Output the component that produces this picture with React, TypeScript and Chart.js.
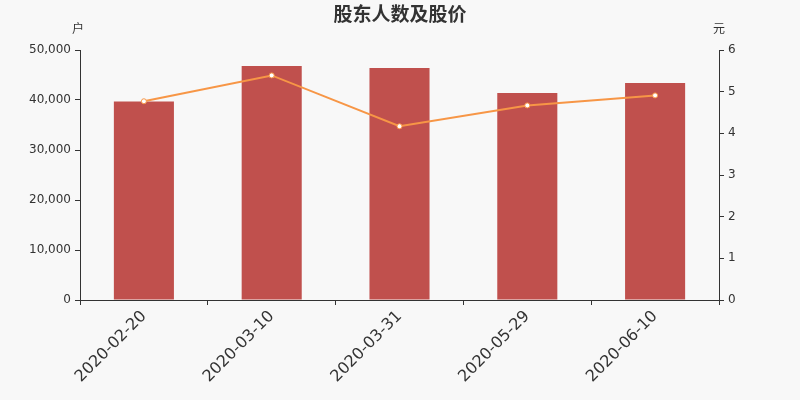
import React, { useEffect, useRef } from "react";
import { Chart, registerables } from "chart.js";

Chart.register(...registerables);

const categories = ["2020-02-20", "2020-03-10", "2020-03-31", "2020-05-29", "2020-06-10"];
const holders = [39700, 46800, 46400, 41400, 43400];
const prices = [4.77, 5.39, 4.17, 4.67, 4.91];
const titleText = "股东人数及股价";
const leftUnit = "户";
const rightUnit = "元";

const TEXT = "#333";
const FONT = "'DejaVu Sans', sans-serif";

const decor = {
  id: "decor",
  beforeDraw(chart: any) {
    const { ctx, width, height } = chart;
    ctx.save();
    ctx.fillStyle = "#f8f8f8";
    ctx.fillRect(0, 0, width, height);
    ctx.restore();
  },
  afterDraw(chart: any) {
    const { ctx } = chart;
    const yl = chart.scales.y;
    const yr = chart.scales.y1;
    ctx.save();
    ctx.fillStyle = TEXT;
    ctx.textAlign = "center";
    ctx.textBaseline = "middle";
    ctx.font = "bold 19px 'Noto Sans CJK SC', sans-serif";
    ctx.fillText(titleText, 400, 14);
    ctx.font = "12px 'Noto Sans CJK SC', sans-serif";
    ctx.fillText(leftUnit, yl.right - 2, 28);
    ctx.fillText(rightUnit, yr.left, 28);
    ctx.restore();
  },
};

export default function App() {
  const ref = useRef<HTMLCanvasElement>(null);
  useEffect(() => {
    if (!ref.current) return;
    const chart = new Chart(ref.current, {
      type: "bar",
      data: {
        labels: categories,
        datasets: [
          {
            type: "line",
            data: prices,
            yAxisID: "y1",
            borderColor: "#f79646",
            backgroundColor: "#ffffff",
            pointBorderColor: "#f79646",
            pointBackgroundColor: "#ffffff",
            pointRadius: 2.5,
            pointBorderWidth: 1,
            borderWidth: 2,
            tension: 0,
            order: 0,
          },
          {
            type: "bar",
            data: holders,
            yAxisID: "y",
            backgroundColor: "#c0504d",
            categoryPercentage: 1,
            barPercentage: 0.47,
            order: 1,
          },
        ],
      },
      options: {
        animation: false,
        responsive: false,
        devicePixelRatio: 1,
        layout: { padding: { top: 50, left: 0, right: 0, bottom: 0 } },
        plugins: { legend: { display: false }, tooltip: { enabled: false } },
        scales: {
          x: {
            offset: true,
            grid: { display: true, drawOnChartArea: false, offset: true, tickLength: 5, color: TEXT },
            border: { display: true, color: TEXT, width: 1 },
            ticks: { color: TEXT, font: { size: 16, family: FONT }, minRotation: 45, maxRotation: 45, padding: 2 },
            afterFit: (s: any) => { s.height = 100; },
          },
          y: {
            position: "left",
            min: 0,
            max: 50000,
            grid: { display: true, drawOnChartArea: false, tickLength: 5, color: TEXT },
            border: { display: true, color: TEXT, width: 1 },
            ticks: {
              stepSize: 10000,
              color: TEXT,
              font: { size: 12, family: FONT },
              padding: 4,
              callback: (v: any) => Number(v).toLocaleString("en-US"),
            },
            afterFit: (s: any) => { s.width = 80; },
          },
          y1: {
            position: "right",
            min: 0,
            max: 6,
            grid: { display: true, drawOnChartArea: false, tickLength: 5, color: TEXT },
            border: { display: true, color: TEXT, width: 1 },
            ticks: { stepSize: 1, color: TEXT, font: { size: 12, family: FONT }, padding: 4 },
            afterFit: (s: any) => { s.width = 81; },
          },
        },
      },
      plugins: [decor],
    });
    return () => chart.destroy();
  }, []);
  return (
    <div style={{ position: "fixed", left: 0, top: 0, width: 800, height: 400 }}>
      <canvas ref={ref} width={800} height={400} style={{ width: 800, height: 400 }} />
    </div>
  );
}
